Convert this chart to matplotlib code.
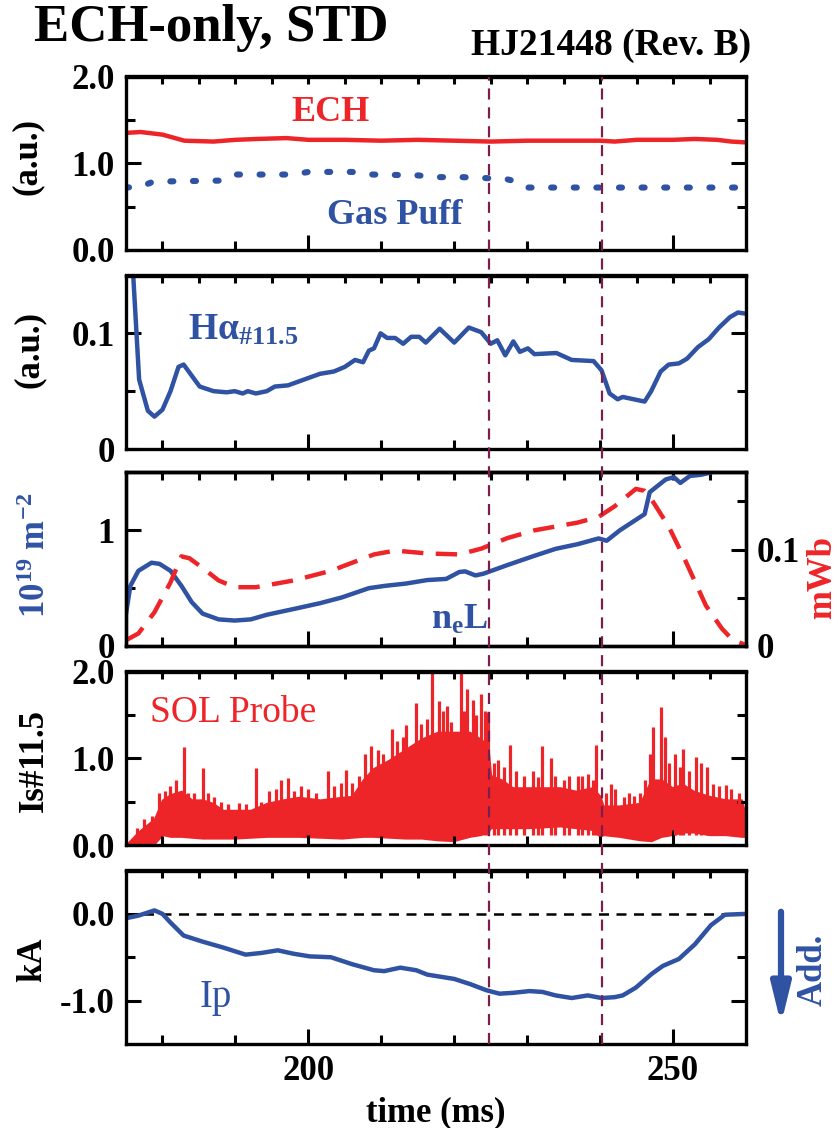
import numpy as np
import matplotlib
matplotlib.use('Agg')
import matplotlib.pyplot as plt
from matplotlib.lines import Line2D
from matplotlib.patches import FancyArrowPatch
from matplotlib.transforms import blended_transform_factory

plt.rcParams['font.family'] = ['Liberation Serif', 'DejaVu Serif']
plt.rcParams['font.weight'] = 'bold'
plt.rcParams['axes.labelweight'] = 'bold'
plt.rcParams['mathtext.fontset'] = 'custom'
plt.rcParams['mathtext.rm'] = 'Liberation Serif:bold'
plt.rcParams['mathtext.it'] = 'Liberation Serif:bold'
plt.rcParams['mathtext.bf'] = 'Liberation Serif:bold'
plt.rcParams['axes.unicode_minus'] = False

RED = '#ee2528'
BLUE = '#2f52a3'
MAROON = '#7a1f4c'

# ---- data ----
t_mark = [224.8, 240.2]

t_ech = [175, 177, 180, 183, 187, 190, 193, 197, 200, 205, 210, 215, 220, 225,
         230, 235, 240, 242, 245, 250, 253, 256, 258, 260]
ech = [1.35, 1.36, 1.33, 1.26, 1.25, 1.27, 1.28, 1.29, 1.27, 1.27, 1.26, 1.27,
       1.26, 1.25, 1.26, 1.26, 1.26, 1.25, 1.27, 1.27, 1.28, 1.27, 1.25, 1.24]

t_gas = [175, 177, 178.5, 180, 188, 190, 198, 200, 206, 208.8, 215, 218, 221,
         224, 227, 228.5, 230, 260]
gas = [0.72, 0.73, 0.78, 0.79, 0.80, 0.87, 0.87, 0.90, 0.90, 0.87, 0.86, 0.84,
       0.84, 0.83, 0.82, 0.79, 0.72, 0.72]

t_ha = [175.5, 176.0, 176.8, 178.0, 178.9, 180.0, 181.1, 182.2, 182.9, 185.1,
        187.0, 188.8, 189.9, 191.0, 191.7, 192.8, 194.3, 195.4, 197.2, 199.4,
        201.6, 203.5, 205.0, 206.4, 207.5, 208.3, 209.0, 209.9, 210.8, 211.9,
        213.0, 214.1, 215.2, 216.1, 218.0, 220.0, 222.0, 223.7, 225.0, 225.9,
        227.0, 228.1, 229.0, 230.1, 231.0, 234.0, 236.1, 239.1, 240.2, 241.3,
        242.4, 243.1, 244.6, 246.1, 247.0, 248.3, 249.4, 250.8, 251.9, 253.4,
        254.9, 256.3, 257.8, 258.9, 260.0]
ha = [0.30, 0.149, 0.060, 0.033, 0.028, 0.034, 0.050, 0.071, 0.073, 0.054,
      0.050, 0.049, 0.050, 0.048, 0.050, 0.048, 0.050, 0.054, 0.055, 0.060,
      0.065, 0.067, 0.071, 0.077, 0.075, 0.085, 0.087, 0.100, 0.096, 0.096,
      0.091, 0.097, 0.097, 0.092, 0.104, 0.092, 0.105, 0.101, 0.091, 0.094,
      0.081, 0.093, 0.084, 0.087, 0.082, 0.083, 0.077, 0.076, 0.068, 0.048,
      0.043, 0.045, 0.043, 0.041, 0.050, 0.067, 0.073, 0.074, 0.078, 0.088,
      0.095, 0.105, 0.114, 0.118, 0.117]

t_nel = [175.0, 175.6, 176.7, 178.5, 179.6, 181.1, 182.6, 184.0, 185.5, 187.7,
         189.9, 192.1, 194.3, 198.0, 201.6, 204.6, 208.3, 210.5, 213.4, 216.3,
         218.9, 220.7, 221.5, 222.9, 224.0, 227.3, 231.0, 233.9, 236.9, 239.8,
         240.9, 242.7, 246.1, 246.8, 249.0, 250.1, 251.0, 252.3, 253.8, 255.2,
         256.5]
nel = [0.28, 0.52, 0.65, 0.72, 0.71, 0.65, 0.52, 0.38, 0.28, 0.23, 0.22, 0.23,
       0.27, 0.32, 0.37, 0.42, 0.50, 0.52, 0.54, 0.57, 0.58, 0.64, 0.645, 0.61,
       0.625, 0.70, 0.78, 0.84, 0.88, 0.93, 0.91, 1.00, 1.14, 1.33, 1.44, 1.46,
       1.41, 1.47, 1.48, 1.50, 1.56]

t_flux = [175.0, 176.7, 178.9, 181.1, 182.6, 183.7, 185.5, 187.7, 189.9, 192.8,
          198.0, 203.1, 209.0, 211.9, 216.3, 220.7, 223.7, 227.3, 231.0, 236.9,
          239.8, 242.0, 244.9, 246.1, 246.8, 249.4, 251.6, 254.5, 256.7, 258.2,
          260.0]
flux = [0.006, 0.013, 0.035, 0.066, 0.093, 0.091, 0.081, 0.068, 0.061, 0.061,
        0.068, 0.078, 0.095, 0.099, 0.096, 0.095, 0.101, 0.112, 0.120, 0.128,
        0.134, 0.145, 0.163, 0.161, 0.155, 0.124, 0.090, 0.042, 0.018, 0.006,
        0.001]

# SOL probe: envelope of the dense trace plus the spikes sticking out of it
t_sol = [175.0, 176.7, 178.9, 180.0, 181.1, 182.6, 184.0, 185.5, 186.9, 188.3,
         189.9, 192.1, 194.3, 196.5, 198.7, 201.6, 204.6, 206.0, 207.5, 208.9,
         211.1, 213.3, 215.5, 217.7, 219.9, 222.1, 223.6, 224.6, 225.0, 226.5,
         228.0, 230.1, 232.3, 234.5, 236.7, 238.9, 240.0, 240.4, 242.6, 245.5,
         247.0, 248.4, 249.9, 251.3, 252.8, 255.0, 257.2, 259.4, 260.0]
sol_hi = [0.0, 0.15, 0.30, 0.52, 0.58, 0.62, 0.52, 0.52, 0.48, 0.40, 0.40, 0.40,
          0.48, 0.52, 0.55, 0.52, 0.55, 0.56, 0.75, 0.88, 0.98, 1.10, 1.22, 1.30,
          1.30, 1.30, 1.22, 1.15, 0.80, 0.75, 0.66, 0.66, 0.66, 0.66, 0.62, 0.66,
          0.56, 0.45, 0.45, 0.48, 0.75, 0.75, 0.66, 0.70, 0.62, 0.56, 0.52, 0.52,
          0.30]
sol_lo = [0.0, 0.0, 0.02, 0.12, 0.10, 0.10, 0.09, 0.08, 0.08, 0.08, 0.08, 0.09,
          0.10, 0.10, 0.10, 0.09, 0.08, 0.09, 0.10, 0.10, 0.09, 0.08, 0.08, 0.06,
          0.05, 0.10, 0.12, 0.15, 0.20, 0.20, 0.20, 0.20, 0.21, 0.22, 0.20, 0.18,
          0.10, 0.12, 0.10, 0.06, 0.05, 0.10, 0.12, 0.15, 0.15, 0.12, 0.12, 0.10,
          0.10]
t_spike = [176.5, 177.5, 178.5, 179.5, 180.3, 181.0, 181.8, 182.9, 183.5, 184.3,
           185.5, 186.2, 187.0, 188.0, 189.0, 190.5, 191.5, 192.8, 193.5, 194.6,
           195.5, 196.3, 197.2, 198.0, 199.0, 200.0, 201.0, 202.7, 203.5, 204.5,
           205.2, 206.0, 207.0, 207.8, 208.6, 209.5, 210.3, 211.5, 212.2, 213.0,
           213.4, 214.8, 215.5, 216.3, 216.9, 217.9, 218.5, 219.0, 219.6, 220.9,
           221.3, 221.8, 222.6, 223.0, 223.7, 224.2, 224.6, 225.5, 226.0, 226.8,
           227.7, 228.5, 229.5, 230.8, 231.5, 232.1, 233.2, 233.8, 235.0, 235.8,
           236.9, 237.5, 238.3, 239.0, 239.5, 240.8, 241.5, 242.0, 243.3, 244.0,
           244.6, 245.5, 246.2, 246.8, 247.3, 248.4, 248.9, 249.5, 250.3, 251.0,
           251.4, 252.2, 253.1, 253.8, 254.7, 255.5, 256.3, 257.2, 258.0, 259.0]
spike = [0.20, 0.30, 0.33, 0.60, 0.62, 0.68, 0.75, 1.13, 0.60, 0.60,
         0.89, 0.60, 0.55, 0.50, 0.47, 0.48, 0.47, 0.89, 0.50, 0.62,
         0.65, 0.75, 0.77, 0.62, 0.68, 0.65, 0.60, 0.85, 0.68, 0.72,
         0.87, 0.72, 0.80, 1.05, 1.14, 1.10, 1.05, 1.34, 1.20, 1.25,
         1.38, 1.64, 1.40, 1.45, 2.05, 1.66, 1.55, 1.60, 1.42, 2.05,
         1.55, 1.80, 1.67, 1.50, 1.74, 1.55, 1.53, 0.95, 0.98, 0.90,
         1.15, 0.85, 0.80, 0.85, 0.78, 1.14, 1.00, 0.80, 0.75, 0.80,
         0.79, 0.80, 0.82, 0.75, 1.15, 0.60, 0.70, 0.64, 0.55, 0.60,
         0.56, 0.60, 0.75, 1.05, 1.36, 1.59, 1.25, 0.95, 1.05, 0.90,
         1.11, 0.85, 1.02, 0.95, 0.90, 0.70, 0.68, 0.69, 0.65, 0.60]

t_ip = [175.0, 176.7, 178.9, 180.0, 181.1, 182.9, 185.5, 188.4, 191.4, 193.6,
        195.8, 198.0, 200.2, 203.1, 206.0, 209.0, 210.4, 212.6, 214.8, 216.3,
        220.0, 222.2, 224.4, 226.2, 228.1, 230.3, 232.1, 233.9, 236.1, 238.3,
        240.2, 242.0, 243.1, 244.9, 247.1, 248.6, 250.8, 253.0, 255.2, 257.1,
        260.0]
ip = [-0.05, -0.02, 0.04, 0.0, -0.10, -0.25, -0.32, -0.39, -0.47, -0.45, -0.42,
      -0.46, -0.49, -0.50, -0.58, -0.65, -0.66, -0.62, -0.65, -0.70, -0.75,
      -0.81, -0.88, -0.92, -0.91, -0.89, -0.90, -0.94, -0.97, -0.94, -0.97,
      -0.96, -0.94, -0.85, -0.69, -0.60, -0.52, -0.35, -0.13, -0.01, 0.0]

# ---- figure ----
fig = plt.figure(figsize=(8.38, 11.28), dpi=100)
left, width, h = 126 / 838, 620 / 838, 173.5 / 1128
bottoms = [1 - 250 / 1128, 1 - 449 / 1128, 1 - 646 / 1128, 1 - 845 / 1128,
           1 - 1044 / 1128]
axes = [fig.add_axes([left, b, width, h]) for b in bottoms]

FS = 25
LW = 3.2


def style(ax, right=True):
    for s in ax.spines.values():
        s.set_linewidth(2.4)
    ax.set_xlim(175, 260)
    ax.set_xticks([200, 250])
    ax.set_xticks(np.arange(180, 260, 10), minor=True)
    ax.tick_params(which='both', direction='in', width=2.2, labelsize=FS,
                   right=right, top=False, pad=8)
    ax.tick_params(which='major', length=11)
    ax.tick_params(which='minor', length=6.5)
    top = ax.secondary_xaxis('top')
    top.set_xticks(np.arange(180, 260, 5))
    top.tick_params(direction='in', length=6, width=2.2, labeltop=False)
    top.spines['top'].set_linewidth(2.4)


# panel 1
ax = axes[0]
ax.plot(t_ech, ech, color=RED, lw=LW)
ax.plot(t_gas, gas, color=BLUE, lw=4.4, linestyle=(0, (0.5, 3.2)),
        dash_capstyle='round')
ax.set_ylim(0, 2.0)
ax.set_yticks([0, 1, 2], ['0.0', '1.0', '2.0'])
ax.set_yticks([0.5, 1.5], minor=True)
ax.text(203, 1.58, 'ECH', color=RED, fontsize=26, ha='center', va='center')
ax.text(211.8, 0.40, 'Gas Puff', color=BLUE, fontsize=26, ha='center',
        va='center')
style(ax)

# panel 2
ax = axes[1]
ax.plot(t_ha, ha, color=BLUE, lw=LW)
ax.set_ylim(0, 0.15)
ax.set_yticks([0, 0.1], ['0', '0.1'])
ax.set_yticks([0.05], minor=True)
ax.text(183.5, 0.103, 'H\u03b1$_{\\#11.5}$', color=BLUE, fontsize=27,
        ha='left', va='center')
style(ax)

# panel 3
ax = axes[2]
ax.plot(t_nel, nel, color=BLUE, lw=LW)
ax.set_ylim(0, 1.5)
ax.set_yticks([0, 1], ['0', '1'])
ax.set_yticks([0.5], minor=True)
ax.text(220.7, 0.22, 'n$_{e}$L', color=BLUE, fontsize=26, ha='center',
        va='center')
style(ax, right=False)
ax2 = ax.twinx()
ax2.plot(t_flux, flux, color=RED, lw=LW, linestyle=(0, (4.8, 2.8)))
ax2.set_ylim(0, 0.18)
ax2.set_yticks([0, 0.1], ['0', '0.1'])
ax2.set_yticks([0.05, 0.15], minor=True)
ax2.tick_params(which='both', direction='in', width=2.2, labelsize=FS, pad=8)
ax2.tick_params(which='major', length=11)
ax2.tick_params(which='minor', length=6.5)
for s in ax2.spines.values():
    s.set_linewidth(2.4)

# panel 4
ax = axes[3]
ax.fill_between(t_sol, sol_lo, sol_hi, color=RED, lw=1.5, edgecolor=RED)
ax.vlines(t_spike, 0.12, spike, color=RED, lw=2.3)
ax.set_ylim(0, 2.0)
ax.set_yticks([0, 1, 2], ['0.0', '1.0', '2.0'])
ax.set_yticks([0.5, 1.5], minor=True)
ax.text(178.3, 1.53, 'SOL Probe', color=RED, fontsize=27, fontweight='normal',
        ha='left', va='center')
style(ax)

# panel 5
ax = axes[4]
ax.plot(t_ip, ip, color=BLUE, lw=LW)
ax.axhline(0, color='black', lw=1.8, linestyle=(0, (4, 3)), zorder=1)
ax.set_ylim(-1.5, 0.5)
ax.set_yticks([0, -1], ['0.0', '-1.0'])
ax.set_yticks([-0.5], minor=True)
ax.text(187.3, -0.96, 'Ip', color=BLUE, fontsize=28, fontweight='normal',
        ha='center', va='center')
style(ax)
ax.set_xticklabels(['200', '250'])
ax.set_xlabel('time (ms)', fontsize=FS, labelpad=6)

for ax in axes[:4]:
    ax.tick_params(labelbottom=False)

# vertical marker lines through all panels
trans = blended_transform_factory(axes[4].transData, fig.transFigure)
for xv in t_mark:
    fig.add_artist(Line2D([xv, xv], [bottoms[4], bottoms[0] + h],
                          transform=trans, color=MAROON, lw=1.6,
                          linestyle=(0, (5, 3.5)), zorder=10))

# axis labels
fig.text(0.033, 0.861, '(a.u.)', fontsize=FS, rotation=90, ha='center',
         va='center')
fig.text(0.035, 0.690, '(a.u.)', fontsize=FS, rotation=90, ha='center',
         va='center')
fig.text(0.043, 0.508, '10$^{19}$ m$^{-2}$', fontsize=FS, rotation=90,
         ha='center', va='center', color=BLUE)
fig.text(0.982, 0.488, 'mWb', fontsize=FS, rotation=90, ha='center',
         va='center', color=RED)
fig.text(0.041, 0.326, 'Is#11.5', fontsize=FS, rotation=90, ha='center',
         va='center')
fig.text(0.039, 0.149, 'kA', fontsize=FS, rotation=90, ha='center',
         va='center')

fig.text(0.04, 0.975, 'ECH-only, STD', fontsize=38, ha='left', va='center')
fig.text(0.896, 0.960, 'HJ21448 (Rev. B)', fontsize=27, ha='right',
         va='center')

# arrow + "Add."
fig.add_artist(FancyArrowPatch(
    (781 / 838, 1 - 909 / 1128), (781 / 838, 1 - 1027 / 1128),
    transform=fig.transFigure, arrowstyle='-|>,head_length=0.9,head_width=0.22',
    mutation_scale=26, color=BLUE, lw=4.5))
fig.text(0.970, 0.140, 'Add.', fontsize=FS, rotation=90, ha='center',
         va='center', color=BLUE)

fig.savefig('out.png', dpi=100)
